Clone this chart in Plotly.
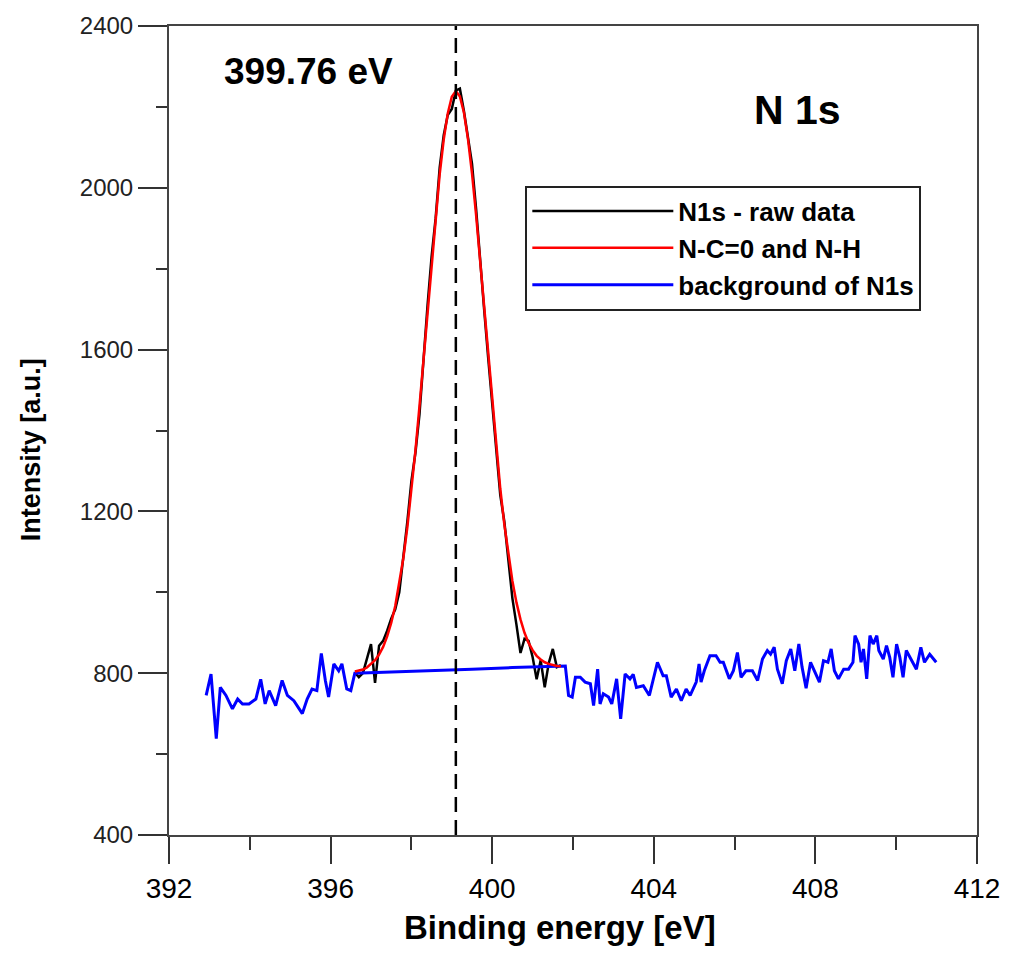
import plotly.graph_objects as go

# ---------------- data ----------------
# peak region grid (eV)
peak_energy = [396.6, 396.7, 396.8, 396.9, 397.0, 397.1, 397.2, 397.3, 397.4, 397.5,
               397.6, 397.7, 397.8, 397.9, 398.0, 398.1, 398.2, 398.3, 398.4, 398.5,
               398.6, 398.7, 398.8, 398.9, 399.0, 399.1, 399.2, 399.3, 399.4, 399.5,
               399.6, 399.7, 399.8, 399.9, 400.0, 400.1, 400.2, 400.3, 400.4, 400.5,
               400.6, 400.7, 400.8, 400.9, 401.0, 401.1, 401.2, 401.3, 401.4, 401.5,
               401.6, 401.7]

raw_intensity = [802, 790, 800, 838, 872, 776, 868, 880, 905, 935,
                 958, 1000, 1085, 1175, 1275, 1345, 1440, 1585, 1710, 1830,
                 1925, 2050, 2130, 2180, 2195, 2240, 2245, 2190, 2130, 2060,
                 1950, 1815, 1700, 1580, 1470, 1350, 1240, 1175, 1080, 985,
                 920, 850, 885, 880, 840, 785, 832, 765, 825, 860,
                 815, 820]

fit_intensity = [804, 806, 809, 814, 822, 832, 846, 865, 891, 924,
                 966, 1020, 1084, 1161, 1250, 1350, 1460, 1577, 1698, 1818,
                 1931, 2033, 2119, 2184, 2225, 2239, 2226, 2186, 2121, 2036,
                 1934, 1821, 1702, 1582, 1466, 1356, 1256, 1168, 1092, 1028,
                 975, 933, 900, 875, 857, 843, 834, 827, 823, 820,
                 818, 817]

bg_energy = [392.92, 393.04, 393.17, 393.27, 393.41, 393.57, 393.70, 393.82, 393.98, 394.15,
             394.27, 394.38, 394.48, 394.64, 394.80, 394.93, 395.09, 395.30, 395.42, 395.54,
             395.66, 395.77, 395.87, 395.95, 396.08, 396.20, 396.28, 396.40, 396.50, 396.60,
             397.50, 398.50, 399.50, 400.50, 401.30, 401.81,
             401.89, 401.98, 402.06, 402.18, 402.30, 402.43, 402.51, 402.61, 402.67, 402.75,
             402.88, 402.96, 403.08, 403.18, 403.29, 403.41, 403.49, 403.57, 403.74, 403.89,
             403.98, 404.09, 404.23, 404.31, 404.43, 404.56, 404.68, 404.80, 404.90, 405.05,
             405.12, 405.17, 405.25, 405.39, 405.54, 405.64, 405.72, 405.87, 405.97, 406.07,
             406.16, 406.28, 406.44, 406.57, 406.69, 406.81, 406.89, 406.98, 407.06, 407.18,
             407.28, 407.39, 407.49, 407.59, 407.67, 407.77, 407.88, 408.00, 408.10, 408.20,
             408.31, 408.39, 408.47, 408.57, 408.70, 408.82, 408.93, 408.98, 409.07, 409.13,
             409.19, 409.27, 409.35, 409.43, 409.52, 409.57, 409.68, 409.76, 409.84, 409.92,
             410.01, 410.09, 410.17, 410.25, 410.36, 410.50, 410.61, 410.70, 410.83, 410.99]

bg_intensity = [745, 798, 638, 765, 745, 712, 736, 724, 724, 736,
                785, 724, 757, 720, 782, 745, 732, 700, 736, 761,
                757, 849, 782, 741, 823, 806, 823, 761, 757, 800,
                803, 806, 810, 814, 817, 818,
                745, 741, 790, 790, 778, 774, 720, 810, 724, 749,
                741, 724, 786, 687, 798, 786, 797, 765, 769, 745,
                782, 827, 794, 794, 741, 761, 732, 761, 745, 778,
                823, 778, 806, 843, 843, 827, 827, 786, 806, 851,
                790, 806, 806, 782, 835, 856, 847, 864, 810, 774,
                831, 860, 806, 872, 815, 763, 827, 802, 778, 831,
                827, 860, 806, 786, 810, 810, 827, 893, 872, 827,
                860, 786, 893, 872, 893, 856, 835, 868, 839, 790,
                872, 839, 790, 856, 835, 810, 864, 827, 847, 827]

peak_position = 399.1
peak_label = "399.76 eV"
region_label = "N 1s"
series_names = ["N1s - raw data", "N-C=0 and N-H", "background of N1s"]
x_title = "Binding energy [eV]"
y_title = "Intensity [a.u.]"
x_ticks = [392, 396, 400, 404, 408, 412]
y_ticks = [400, 800, 1200, 1600, 2000, 2400]

FONT = "Liberation Sans, Arial, sans-serif"
# plot-area geometry in pixels (for placing text)
PL, PT, PW, PH = 169.3, 22.7, 813.4, 812.3


def px_x(px):
    return (px - PL) / PW


def px_y(py):
    return 1 - (py - PT) / PH


fig = go.Figure()

fig.add_trace(go.Scatter(x=peak_energy, y=raw_intensity, mode="lines",
                         name=f"<b>{series_names[0]}</b>", legendrank=1,
                         line=dict(color="#000000", width=2.5)))
fig.add_trace(go.Scatter(x=bg_energy, y=bg_intensity, mode="lines",
                         name=f"<b>{series_names[2]}</b>", legendrank=3,
                         line=dict(color="#0000ff", width=3)))
fig.add_trace(go.Scatter(x=peak_energy, y=fit_intensity, mode="lines",
                         name=f"<b>{series_names[1]}</b>", legendrank=2,
                         line=dict(color="#ff0000", width=2.5)))
fig.add_trace(go.Scatter(x=[peak_position, peak_position], y=[y_ticks[0], y_ticks[-1]],
                         mode="lines", showlegend=False, hoverinfo="skip",
                         line=dict(color="#000000", width=2.5, dash="15px,8px")))

fig.add_annotation(text=f"<b>{peak_label}</b>", x=px_x(310), y=px_y(68),
                   xref="paper", yref="paper", showarrow=False,
                   xanchor="center", yanchor="middle",
                   font=dict(family=FONT, size=37, color="#000"))
fig.add_annotation(text=f"<b>{region_label}</b>", x=px_x(802), y=px_y(107),
                   xref="paper", yref="paper", showarrow=False,
                   xanchor="center", yanchor="middle",
                   font=dict(family=FONT, size=41, color="#000"))
# axis titles
fig.add_annotation(text=f"<b>{x_title}</b>", x=px_x(563), y=px_y(928),
                   xref="paper", yref="paper", showarrow=False,
                   xanchor="center", yanchor="middle",
                   font=dict(family=FONT, size=33, color="#000"))
fig.add_annotation(text=f"<b>{y_title}</b>", x=px_x(30), y=px_y(448),
                   xref="paper", yref="paper", showarrow=False, textangle=-90,
                   xanchor="center", yanchor="middle",
                   font=dict(family=FONT, size=27, color="#000"))

fig.update_layout(
    width=1012, height=954,
    margin=dict(l=169, r=29, t=23, b=119, pad=0),
    paper_bgcolor="white", plot_bgcolor="white",
    font=dict(family=FONT, color="#000"),
    legend=dict(x=px_x(528), y=px_y(183), xanchor="left", yanchor="top",
                bgcolor="white", bordercolor="#222", borderwidth=2,
                font=dict(family=FONT, size=26, color="#000"),
                itemwidth=141, tracegroupgap=0, traceorder="normal"),
    showlegend=True,
)

fig.update_xaxes(
    range=[392, 412], tickvals=x_ticks, ticktext=[str(v) for v in x_ticks],
    ticks="outside", ticklen=27, tickwidth=1.5, tickcolor="#333",
    minor=dict(dtick=2, tick0=392, ticks="outside", ticklen=13, tickwidth=1.5, tickcolor="#333"),
    showline=True, linecolor="#444", linewidth=2, mirror=True,
    showgrid=False, zeroline=False,
    tickfont=dict(family="Liberation Sans Narrow, Arial Narrow, Liberation Sans", size=28, color="#000"),
)
fig.update_yaxes(
    range=[400, 2400], tickvals=y_ticks, ticktext=[str(v) for v in y_ticks],
    ticks="outside", ticklen=29, tickwidth=1.5, tickcolor="#333",
    minor=dict(dtick=200, tick0=400, ticks="outside", ticklen=11, tickwidth=1.5, tickcolor="#333"),
    showline=True, linecolor="#444", linewidth=2, mirror=True,
    showgrid=False, zeroline=False,
    tickfont=dict(family=FONT, size=24, color="#222"),
)

fig.write_html("out.html")
